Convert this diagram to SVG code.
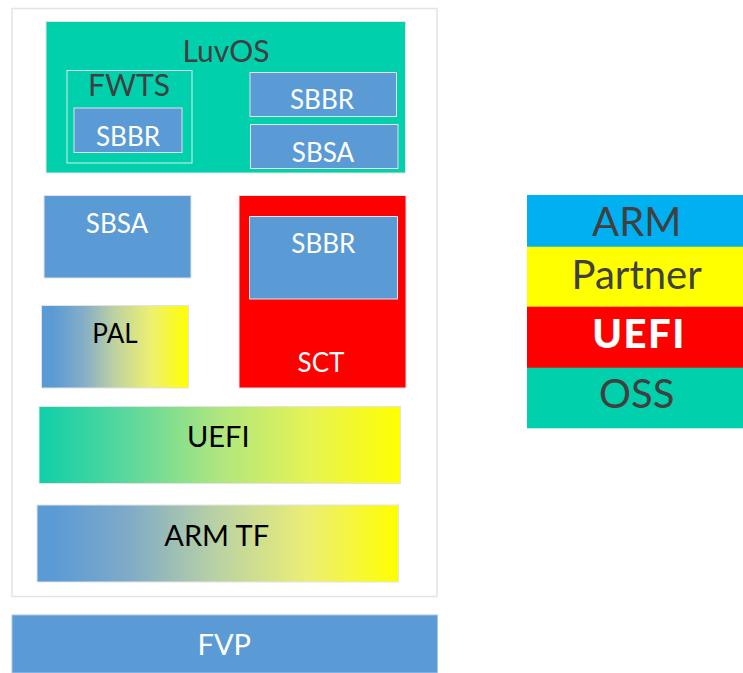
<svg xmlns="http://www.w3.org/2000/svg" width="743" height="673" viewBox="0 0 743 673">
<defs>
<linearGradient id="gPal" x1="0" y1="0" x2="1" y2="0">
<stop offset="0.08" stop-color="#5B9BD5"/><stop offset="0.3" stop-color="#88AFC6"/><stop offset="0.5" stop-color="#BFD2A0"/><stop offset="0.75" stop-color="#EEF070"/><stop offset="1" stop-color="#FFFF00"/>
</linearGradient>
<linearGradient id="gUefi" x1="0" y1="0" x2="1" y2="0">
<stop offset="0" stop-color="#0ECFA9"/><stop offset="0.25" stop-color="#5CD89C"/><stop offset="0.5" stop-color="#AFE67F"/><stop offset="0.75" stop-color="#E6F353"/><stop offset="1" stop-color="#FFFF00"/>
</linearGradient>
<linearGradient id="gTf" x1="0" y1="0" x2="1" y2="0">
<stop offset="0.05" stop-color="#5B9BD5"/><stop offset="0.25" stop-color="#7FAAC8"/><stop offset="0.5" stop-color="#BAD2A4"/><stop offset="0.75" stop-color="#ECEE74"/><stop offset="1" stop-color="#FFFF00"/>
</linearGradient>
</defs>
<style>
text{font-family:Lato,"Liberation Sans",sans-serif;text-anchor:middle}
.b{fill:#5B9BD5;stroke:#E3E3E3;stroke-width:1}
.w{fill:#FFFFFF}
.d{fill:#404040}
.k{fill:#000000}
.t26{font-size:26px}
.t29{font-size:29px}
.t30{font-size:30px}
.t40{font-size:40px}
</style>
<rect width="743" height="673" fill="#FFFFFF"/>
<g id="container"><rect x="12" y="8.5" width="425" height="588" fill="#FFFFFF" stroke="#E3E3E3" stroke-width="1.5"/></g>
<g id="luvos">
<rect x="46" y="21.5" width="359.5" height="151.5" fill="#00D1AC" stroke="#E3E3E3" stroke-width="1"/>
<text x="226" y="62" class="d t30">LuvOS</text>
</g>
<g id="fwts">
<rect x="67" y="70.5" width="125" height="92.5" fill="none" stroke="#D8EFEA" stroke-width="1"/>
<text x="129" y="95.5" class="d t30">FWTS</text>
</g>
<g id="fwts-sbbr">
<rect x="74" y="108" width="108" height="44.5" class="b"/>
<text x="128" y="145.5" class="w t26">SBBR</text>
</g>
<g id="luvos-sbbr">
<rect x="250" y="72.5" width="146.5" height="44" class="b"/>
<text x="322" y="109.3" class="w t26">SBBR</text>
</g>
<g id="luvos-sbsa">
<rect x="250.5" y="124.5" width="147.5" height="44" class="b"/>
<text x="323" y="161.7" class="w t26">SBSA</text>
</g>
<g id="sbsa">
<rect x="44" y="195.5" width="147" height="82.5" class="b"/>
<text x="117" y="233.3" class="w t26">SBSA</text>
</g>
<g id="pal">
<rect x="41.5" y="305.5" width="147" height="82.5" fill="url(#gPal)" stroke="#E3E3E3" stroke-width="1"/>
<text x="115" y="342.7" class="k t26">PAL</text>
</g>
<g id="sct">
<rect x="239" y="195.5" width="167" height="192.5" fill="#FF0000" stroke="#E3E3E3" stroke-width="1"/>
<text x="321" y="371.7" class="w t26">SCT</text>
</g>
<g id="sct-sbbr">
<rect x="249.5" y="216.5" width="148" height="82.5" class="b"/>
<text x="323.3" y="253.3" class="w t26">SBBR</text>
</g>
<g id="uefi">
<rect x="39" y="406.5" width="361.5" height="77" fill="url(#gUefi)" stroke="#E3E3E3" stroke-width="1"/>
<text x="218.3" y="447.3" class="k t29">UEFI</text>
</g>
<g id="armtf">
<rect x="37" y="505" width="361.5" height="77" fill="url(#gTf)" stroke="#E3E3E3" stroke-width="1"/>
<text x="216.7" y="545.7" class="k t29">ARM TF</text>
</g>
<g id="fvp">
<rect x="12" y="615" width="425.5" height="58" fill="#5B9BD5" stroke="#A9C6E6" stroke-width="1"/>
<text x="224.3" y="655" class="w t29">FVP</text>
</g>
<g id="legend">
<g id="legend-arm"><rect x="527" y="195" width="216" height="52" fill="#00B0F0"/><text x="636.7" y="235.7" class="d t40">ARM</text></g>
<g id="legend-partner"><rect x="527" y="246.7" width="216" height="60.3" fill="#FFFF00"/><text x="636.7" y="289" class="d t40">Partner</text></g>
<g id="legend-uefi"><rect x="527" y="306.7" width="216" height="61.3" fill="#FF0000"/><text x="639" y="348.3" class="w" font-size="40" font-weight="900" letter-spacing="1.5">UEFI</text></g>
<g id="legend-oss"><rect x="527" y="367.7" width="216" height="60.6" fill="#00D1AC"/><text x="636.7" y="408.3" class="d t40">OSS</text></g>
</g>
<g id="connectors"/>
</svg>
